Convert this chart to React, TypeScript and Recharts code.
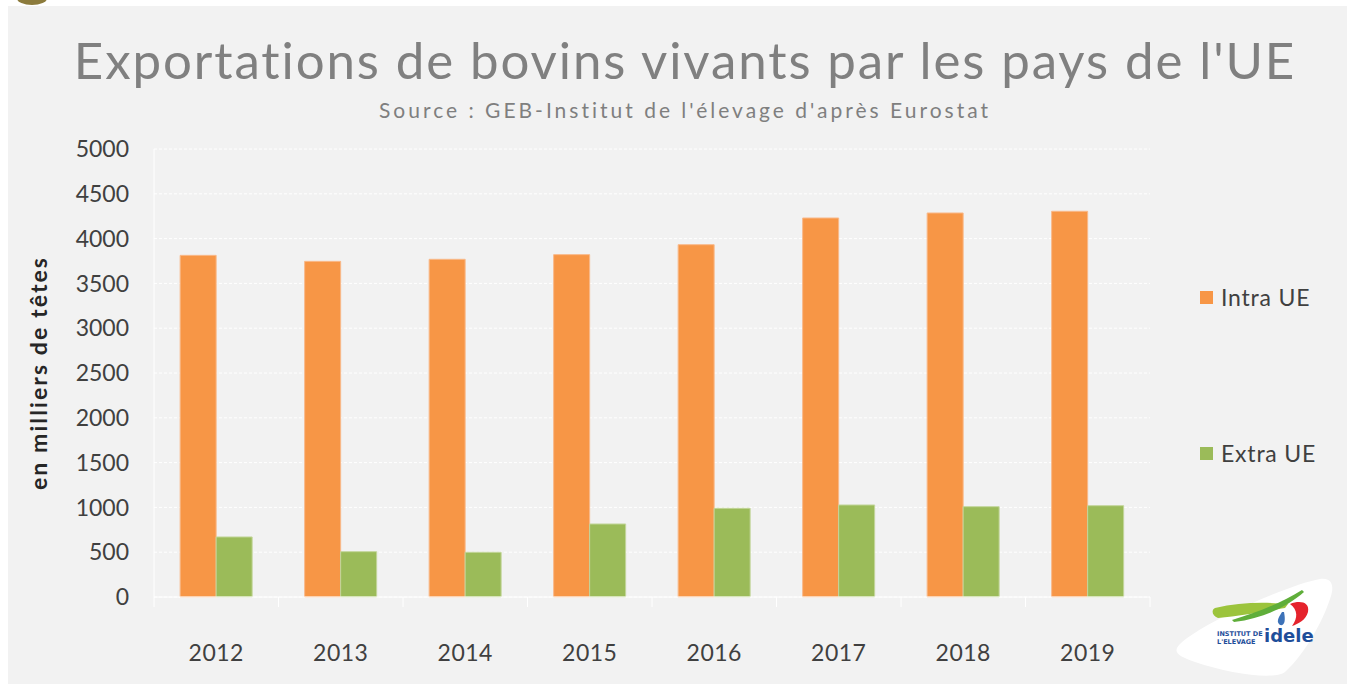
import React from 'react';
import { BarChart, Bar, XAxis, YAxis, CartesianGrid, Legend } from 'recharts';

const years = ['2012', '2013', '2014', '2015', '2016', '2017', '2018', '2019'];
const intraUE = [3813, 3746, 3769, 3821, 3932, 4230, 4286, 4305];
const extraUE = [670, 506, 499, 815, 990, 1027, 1008, 1019];
const yTicks = [0, 500, 1000, 1500, 2000, 2500, 3000, 3500, 4000, 4500, 5000];
const seriesNames = ['Intra UE', 'Extra UE'];

const font = 'Lato, "Open Sans", sans-serif';
const textGrey = '#404040';

const data = years.map((year, i) => ({
  year,
  intra: intraUE[i],
  extra: extraUE[i],
}));

function YearTick(props: any) {
  const { x, y, payload, index } = props;
  const half = payload && payload.offset ? payload.offset : 62.25;
  return (
    <g>
      <line x1={x - half} x2={x - half} y1={y - 10} y2={y} stroke="#ffffff" />
      {index === years.length - 1 && (
        <line x1={x + half} x2={x + half} y1={y - 10} y2={y} stroke="#ffffff" />
      )}
      <text x={x} y={y + 54} textAnchor="middle" fill={textGrey} fontSize={23} fontFamily={font} letterSpacing={0.5}>
        {payload.value}
      </text>
    </g>
  );
}

function LegendBox(props: any) {
  const items = props.payload || [];
  const ordered = seriesNames
    .map((n) => items.find((it: any) => it.value === n))
    .filter(Boolean);
  return (
    <div style={{ fontFamily: font, color: textGrey, fontSize: 23, letterSpacing: 0.8 }}>
      {ordered.map((it: any, i: number) => (
        <div
          key={it.value}
          style={{ display: 'flex', alignItems: 'center', height: 26, marginTop: i === 0 ? 0 : 130 }}
        >
          <span style={{ width: 13, height: 13, background: it.color, display: 'inline-block', marginRight: 8 }} />
          <span>{it.value}</span>
        </div>
      ))}
    </div>
  );
}

export default function App() {
  return (
    <div style={{ position: 'absolute', left: 0, top: 0, width: 1347, height: 684, background: '#ffffff', overflow: 'hidden' }}>
      <div style={{ position: 'absolute', left: 8, top: 6, width: 1339, height: 678, background: '#f2f2f2' }} />
      <div style={{ position: 'absolute', left: 17, top: -8, width: 30, height: 13, borderRadius: '50%', background: '#8c7b3c' }} />
      <div
        style={{
          position: 'absolute', left: 0, top: 28, width: 1370, textAlign: 'center',
          fontFamily: font, fontSize: 51, color: '#808080', lineHeight: '64px', whiteSpace: 'nowrap',
          letterSpacing: 1.9,
        }}
      >
        Exportations de bovins vivants par les pays de l'UE
      </div>
      <div
        style={{
          position: 'absolute', left: 0, top: 96, width: 1370, textAlign: 'center',
          fontFamily: font, fontSize: 21, color: '#7f7f7f', lineHeight: '28px', whiteSpace: 'nowrap',
          letterSpacing: 3,
        }}
      >
        Source : GEB-Institut de l'élevage d'après Eurostat
      </div>
      <div style={{ position: 'absolute', left: 0, top: 0 }}>
        <BarChart
          width={1347}
          height={684}
          data={data}
          margin={{ top: 149, right: 197, bottom: 57, left: 94 }}
          barCategoryGap="21%"
          barGap={0}
        >
          <CartesianGrid vertical={false} stroke="#ffffff" strokeDasharray="3 2" />
          <XAxis
            dataKey="year"
            height={30}
            axisLine={{ stroke: '#ffffff' }}
            tickLine={false}
            tickSize={10}
            tickMargin={0}
            tick={<YearTick />}
            interval={0}
          />
          <YAxis
            width={60}
            domain={[0, 5000]}
            ticks={yTicks}
            axisLine={{ stroke: '#ffffff' }}
            tickLine={false}
            tickMargin={19}
            tick={{ fill: textGrey, fontSize: 23, fontFamily: font }}
          />
          <Legend
            layout="horizontal"
            align="center"
            verticalAlign="middle"
            content={<LegendBox />}
            wrapperStyle={{ position: 'absolute', left: 1200, top: 284, width: 140 }}
          />
          <Bar dataKey="intra" name="Intra UE" fill="#f79646" stroke="#f9b98a" strokeWidth={1} isAnimationActive={false} />
          <Bar dataKey="extra" name="Extra UE" fill="#9bbb59" stroke="#c3d69b" strokeWidth={1} isAnimationActive={false} />
        </BarChart>
      </div>
      <div
        style={{
          position: 'absolute', left: 38, top: 373, transform: 'translate(-50%, -50%) rotate(-90deg)',
          fontFamily: font, fontWeight: 700, fontSize: 23, color: '#262626', whiteSpace: 'nowrap',
          letterSpacing: 2.1,
        }}
      >
        en milliers de têtes
      </div>
      <svg style={{ position: 'absolute', left: 1170, top: 574 }} width={170} height={110}>
        <path
          d="M10 70 C 30 50, 120 10, 150 5 C 162 3, 165 12, 160 25 C 150 55, 130 85, 115 98 C 105 106, 60 100, 25 88 C 8 82, 2 78, 10 70 Z"
          fill="#ffffff"
        />
        <path d="M45 34 C 70 28, 95 28, 118 30 L 115 34 C 98 37, 72 42, 48 44 C 42 42, 41 36, 45 34 Z" fill="#9cc43c" />
        <path d="M62 46 C 90 38, 112 28, 132 16 L 134 18 C 118 32, 95 44, 64 48 Z" fill="#5fae3a" />
        <path d="M112 38 C 108 44, 106 48, 110 51 C 114 52, 116 48, 114 38 Z" fill="#3d72b8" />
        <path d="M120 30 C 130 26, 140 28, 138 38 C 136 46, 128 50, 122 52 C 128 44, 128 36, 120 30 Z" fill="#e5232c" />
        <text x={47} y={62} fontFamily="'DejaVu Sans', sans-serif" fontWeight={700} fontSize={6.5} fill="#1f4e9a">INSTITUT DE</text>
        <text x={47} y={70} fontFamily="'DejaVu Sans', sans-serif" fontWeight={700} fontSize={6.5} fill="#1f4e9a">L'ELEVAGE</text>
        <text x={94} y={68} fontFamily="'DejaVu Sans', sans-serif" fontWeight={700} fontSize={18} fill="#1f4e9a">idele</text>
      </svg>
    </div>
  );
}
